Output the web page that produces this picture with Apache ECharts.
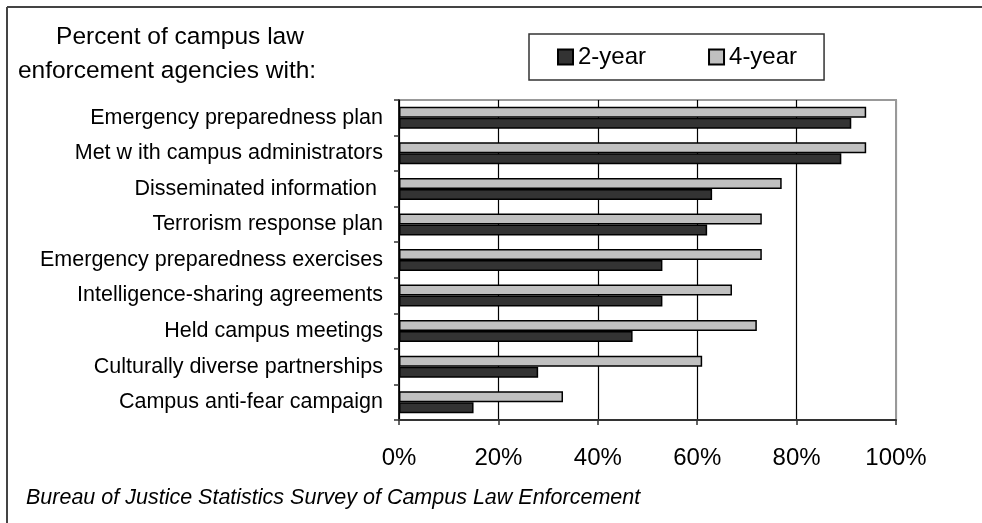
<!DOCTYPE html>
<html>
<head>
<meta charset="utf-8">
<title>Campus law enforcement</title>
<script src="https://cdn.jsdelivr.net/npm/echarts@6/dist/echarts.min.js"></script>
<style>
body {
  margin: 0;
  background-color: #ffffff;
}
#chart {
  width: 982px;
  height: 523px;
}
</style>
</head>
<body>
<div id="chart"></div>
<script>
// categories, top to bottom
var categories = [
  "Emergency preparedness plan",
  "Met w ith campus administrators",
  "Disseminated information ",
  "Terrorism response plan",
  "Emergency preparedness exercises",
  "Intelligence-sharing agreements",
  "Held campus meetings",
  "Culturally diverse partnerships",
  "Campus anti-fear campaign"
];
var twoYear = [91, 89, 63, 62, 53, 53, 47, 28, 15];
var fourYear = [94, 94, 77, 73, 73, 67, 72, 61, 33];
var xTicks = [0, 20, 40, 60, 80, 100];

var font = "Liberation Sans, Arial, sans-serif";
var chart = echarts.init(document.getElementById("chart"));

chart.setOption({
  animation: false,
  backgroundColor: "#ffffff",
  grid: {
    left: 399,
    right: 86,
    top: 100,
    bottom: 103,
    show: true,
    borderColor: "#999999",
    borderWidth: 2
  },
  legend: {
    data: ["2-year", "4-year"],
    left: 529,
    top: 34,
    orient: "horizontal",
    icon: "rect",
    itemWidth: 15,
    itemHeight: 15,
    itemGap: 62,
    padding: [11, 27, 11, 28],
    borderColor: "#333333",
    borderWidth: 1.5,
    textStyle: {
      fontFamily: font,
      fontSize: 24,
      color: "#000000"
    }
  },
  xAxis: {
    type: "value",
    min: xTicks[0],
    max: xTicks[xTicks.length - 1],
    interval: 20,
    axisLine: {
      show: true,
      lineStyle: { color: "#333333", width: 2 }
    },
    axisTick: {
      show: true,
      length: 5,
      lineStyle: { color: "#333333", width: 1.5 }
    },
    axisLabel: {
      margin: 26,
      fontFamily: font,
      fontSize: 24,
      color: "#000000",
      formatter: "{value}%"
    },
    splitLine: {
      show: true,
      lineStyle: {
        color: ["#000000", "#000000", "#000000", "#000000", "#000000", "#999999"],
        width: 1.2
      }
    }
  },
  yAxis: {
    type: "category",
    data: categories,
    inverse: true,
    axisLine: {
      show: true,
      lineStyle: { color: "#000000", width: 1.5 }
    },
    axisTick: {
      show: true,
      length: 5,
      lineStyle: { color: "#333333", width: 1.5 }
    },
    axisLabel: {
      margin: 16,
      fontFamily: font,
      fontSize: 21.5,
      color: "#000000"
    }
  },
  series: [
    {
      name: "4-year",
      type: "bar",
      data: fourYear,
      barWidth: 11,
      barGap: "0%",
      itemStyle: {
        color: "#c0c0c0",
        borderColor: "#000000",
        borderWidth: 1.5
      }
    },
    {
      name: "2-year",
      type: "bar",
      data: twoYear,
      barWidth: 11,
      barGap: "0%",
      itemStyle: {
        color: "#333333",
        borderColor: "#000000",
        borderWidth: 1.5
      }
    }
  ],
  graphic: [
    // frame, only left and top edges show in the picture
    {
      type: "line",
      shape: { x1: 7, y1: 7, x2: 7, y2: 523 },
      style: { stroke: "#444444", lineWidth: 2 }
    },
    {
      type: "line",
      shape: { x1: 7, y1: 7, x2: 982, y2: 7 },
      style: { stroke: "#444444", lineWidth: 2 }
    },
    {
      type: "text",
      x: 180,
      y: 37,
      style: {
        text: "Percent of campus law",
        fontFamily: font,
        fontSize: 24.5,
        fill: "#000000",
        align: "center",
        verticalAlign: "middle"
      }
    },
    {
      type: "text",
      x: 167,
      y: 71,
      style: {
        text: "enforcement agencies with:",
        fontFamily: font,
        fontSize: 24.5,
        fill: "#000000",
        align: "center",
        verticalAlign: "middle"
      }
    },
    {
      type: "text",
      x: 26,
      y: 498,
      style: {
        text: "Bureau of Justice Statistics Survey of Campus Law Enforcement",
        fontFamily: font,
        fontSize: 21.5,
        fontStyle: "italic",
        fill: "#000000",
        align: "left",
        verticalAlign: "middle"
      }
    }
  ]
});
</script>
</body>
</html>
